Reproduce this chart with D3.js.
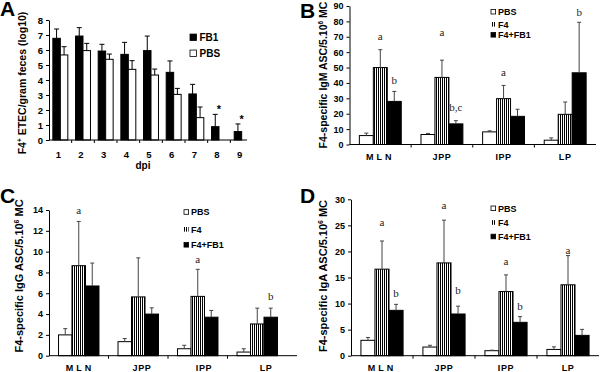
<!DOCTYPE html>
<html><head><meta charset="utf-8">
<script src="https://cdn.jsdelivr.net/npm/d3@7"></script>
<style>body{margin:0;background:#fff}svg{display:block}</style>
</head><body>
<svg id="c" width="600" height="372"></svg>
<script>
// ---------- DATA ----------
// Panel A
const dpi = ["1","2","3","4","5","6","7","8","9"];
const aFB1 = [6.78, 6.93, 5.93, 5.71, 5.96, 4.51, 3.07, 0.89, 0.56];
const aFB1Err = [0.62, 0.56, 0.45, 0.80, 0.97, 0.76, 0.64, 0.82, 0.51];
const aPBS = [5.67, 5.96, 5.38, 4.71, 4.33, 3.04, 1.49, 0, 0];
const aPBSErr = [0.55, 0.48, 0.35, 0.58, 0.40, 0.40, 0.71, 0, 0];
const aStars = ["8", "9"];
const aYTicks = [0,1,2,3,4,5,6,7,8];

// Panels B-D
const tissues = ["MLN","JPP","IPP","LP"];
const groupNames = ["PBS","F4","F4+FB1"];

const bPBS = [5.8, 6.5, 8.2, 2.8];     const bPBSErr = [1.6, 0.7, 0.7, 1.5];
const bF4  = [50, 43.6, 29.8, 19.6];   const bF4Err  = [11.6, 11.2, 8.6, 8.0];
const bFB  = [28, 13.4, 18.3, 46.6];   const bFBErr  = [6.5, 2.1, 4.6, 32.8];
const bLetters = [["MLN","F4","a",70],["MLN","F4+FB1","b",41],["JPP","F4","a",72.4],
                  ["JPP","F4+FB1","b,c",23.8],["IPP","F4","a",46.4],["LP","F4+FB1","b",85.2]];
const bYTicks = [0,10,20,30,40,50,60,70,80,90];

const cPBS = [2.0, 1.35, 0.67, 0.35];  const cPBSErr = [0.6, 0.3, 0.33, 0.32];
const cF4  = [8.65, 5.65, 5.7, 3.05];  const cF4Err  = [4.25, 3.75, 2.6, 1.52];
const cFB  = [6.7, 4.0, 3.7, 3.7];     const cFBErr  = [2.2, 0.6, 0.65, 0.87];
const cLetters = [["MLN","F4","a",13.9],["IPP","F4","a",9.2],["LP","F4+FB1","b",5.6]];
const cYTicks = [0,2,4,6,8,10,12,14];

const dPBS = [2.95, 1.66, 0.96, 1.2];  const dPBSErr = [0.55, 0.34, 0.1, 0.5];
const dF4  = [16.6, 17.8, 12.3, 13.6]; const dF4Err  = [5.4, 8.2, 3.2, 5.6];
const dFB  = [8.7, 8.0, 6.4, 3.9];     const dFBErr  = [1.15, 1.5, 1.1, 1.15];
const dLetters = [["MLN","F4","a",25.5],["MLN","F4+FB1","b",11.8],["JPP","F4","a",28.7],
                  ["JPP","F4+FB1","b",12.4],["IPP","F4","a",18.0],["IPP","F4+FB1","b",9.3],
                  ["LP","F4","a",20.1]];
const dYTicks = [0,5,10,15,20,25,30];

// ---------- DRAWING ----------
const SANS = "'Liberation Sans', Arial, sans-serif";
const SERIF = "'Liberation Serif', 'Times New Roman', serif";
const svg = d3.select("#c");
const defs = svg.append("defs");
const pat = defs.append("pattern").attr("id","stripes").attr("patternUnits","userSpaceOnUse")
  .attr("width",2).attr("height",4);
pat.append("rect").attr("width",2).attr("height",4).attr("fill","#fff");
pat.append("rect").attr("width",1).attr("height",4).attr("fill","#000");

const fills = {"PBS":"#fff","F4":"url(#stripes)","F4+FB1":"#000","FB1":"#000"};

function yAxis(g, y, x0, ticks, fs) {
  const ax = g.append("g").attr("transform",`translate(${x0},0)`)
    .call(d3.axisLeft(y).tickValues(ticks).tickSize(3).tickPadding(3).tickSizeOuter(0));
  ax.select(".domain").attr("stroke","#000");
  ax.selectAll(".tick line").attr("stroke","#000");
  ax.selectAll(".tick text").attr("fill","#000").style("font-family",SANS)
    .style("font-weight","bold").style("font-size",fs+"px");
}

function xAxis(g, xBars, xLab, cats, yBase, axisEnd, labY, fs, spacing) {
  g.append("line").attr("x1",xBars.range()[0]).attr("x2",axisEnd)
    .attr("y1",yBase).attr("y2",yBase).attr("stroke","#000");
  const step = xBars.step();
  cats.forEach((c,i)=>{
    if (i>0) {
      const xt = xBars(c) - xBars.paddingOuter()*step;
      g.append("line").attr("x1",xt).attr("x2",xt).attr("y1",yBase).attr("y2",yBase+3).attr("stroke","#000");
    }
  });
  g.selectAll(".cl").data(cats).join("text")
    .attr("x",d=>xLab(d)+xLab.bandwidth()/2).attr("y",labY)
    .attr("text-anchor","middle").style("font-family",SANS).style("font-weight","bold")
    .style("font-size",fs+"px").style("letter-spacing",d=>spacing(d)+"px").text(d=>d);
}

function bars(g, x0, x1, y, cats, name, vals, errs, capW, errColor) {
  cats.forEach((c,i)=>{
    const bx = x0(c)+x1(name), bw = x1.bandwidth();
    if (vals[i] > 0) {
      g.append("rect").attr("x",bx).attr("y",y(vals[i])).attr("width",bw)
        .attr("height",y(0)-y(vals[i])).attr("fill",fills[name]).attr("stroke","#000").attr("stroke-width",1);
    }
    if (errs[i] > 0) {
      const cx = bx + bw/2, top = y(vals[i]+errs[i]);
      g.append("line").attr("x1",cx).attr("x2",cx).attr("y1",y(vals[i])).attr("y2",top)
        .attr("stroke",errColor).attr("stroke-width",1);
      g.append("line").attr("x1",cx-capW/2).attr("x2",cx+capW/2).attr("y1",top).attr("y2",top)
        .attr("stroke",errColor).attr("stroke-width",1);
    }
  });
}

function legend(g, items, x, ys, size, fs, tx) {
  items.forEach((it,i)=>{
    g.append("rect").attr("x",x).attr("y",ys[i]-size/2).attr("width",size).attr("height",size)
      .attr("fill",fills[it]).attr("stroke",it==="F4"?"none":"#000").attr("stroke-width",0.8);
    g.append("text").attr("x",tx).attr("y",ys[i]+fs*0.36).style("font-family",SANS)
      .style("font-weight","bold").style("font-size",fs+"px").text(it);
  });
}

function yTitle(g, x, y, fs, parts) {
  const t = g.append("text").attr("transform",`translate(${x},${y}) rotate(-90)`)
    .attr("text-anchor","middle").style("font-family",SANS).style("font-weight","bold")
    .style("font-size",fs+"px");
  parts.forEach(p=>{
    const s = t.append("tspan").text(p[0]);
    if (p[1]==="sup") s.attr("dy",-fs*0.35).style("font-size",(fs*0.62)+"px");
    if (p[1]==="back") s.attr("dy",fs*0.35);
  });
}

function panelLetter(text, x, y) {
  svg.append("text").attr("x",x).attr("y",y).style("font-family",SANS).style("font-weight","bold")
    .style("font-size","21px").text(text);
}

// ----- Panel A -----
{
  const g = svg.append("g");
  const y = d3.scaleLinear().domain([0,8]).range([140,20]);
  const x0 = d3.scaleBand().domain(dpi).range([49,253]).paddingInner(0.34).paddingOuter(0.17);
  const x1 = d3.scaleBand().domain(["FB1","PBS"]).range([0,x0.bandwidth()]);
  bars(g, x0, x1, y, dpi, "FB1", aFB1, aFB1Err, 5, "#000");
  bars(g, x0, x1, y, dpi, "PBS", aPBS, aPBSErr, 5, "#000");
  yAxis(g, y, 49, aYTicks, 9.5);
  xAxis(g, x0, d3.scaleBand().domain(dpi).range([47,251]), dpi, 140, 247, 158, 9.5, ()=>0);
  aStars.forEach(s=>{
    const i = dpi.indexOf(s);
    const top = y(aFB1[i]+aFB1Err[i]);
    g.append("text").attr("x",x0(s)+x0.bandwidth()/2).attr("y",top-1)
      .attr("text-anchor","middle").style("font-family",SANS).style("font-weight","bold")
      .style("font-size","11px").text("*");
  });
  legend(g, ["FB1","PBS"], 190, [37.3,53.3], 6.5, 10, 199.5);
  yTitle(g, 26, 83, 10.5, [["F4"],["+","sup"],[" ETEC/gram feces (log10)","back"]]);
  g.append("text").attr("x",143).attr("y",169).attr("text-anchor","middle")
    .style("font-family",SANS).style("font-weight","bold").style("font-size","10px").text("dpi");
  panelLetter("A", 0, 16);
}

function groupedPanel(o) {
  const g = svg.append("g");
  const y = d3.scaleLinear().domain([0,o.yMax]).range(o.yRange);
  const x0 = d3.scaleBand().domain(tissues).range(o.xRange).paddingInner(0.32).paddingOuter(0.16);
  const x1 = d3.scaleBand().domain(groupNames).range([0,x0.bandwidth()]);
  const xl = d3.scaleBand().domain(tissues).range(o.labelRange);
  o.series.forEach((s,k)=>bars(g, x0, x1, y, tissues, groupNames[k], s[0], s[1], 4, "#444"));
  yAxis(g, y, o.xRange[0], o.yTicks, 9);
  xAxis(g, x0, xl, tissues, o.yRange[0], o.axisEnd, o.labY, 9, d=>d==="MLN"?3:0.6);
  o.letters.forEach(L=>{
    g.append("text").attr("x",x0(L[0])+x1(L[1])+x1.bandwidth()/2).attr("y",y(L[3])+3)
      .attr("text-anchor","middle").style("font-family",SERIF).style("font-size","11px")
      .attr("fill","#222").text(L[2]);
  });
  legend(g, groupNames, o.legX, o.legY, 4.6, 9, o.legX+7);
  yTitle(g, o.titleX, o.titleY, o.titleFs, o.title);
  panelLetter(o.letter, o.letterX, o.letterY);
}

groupedPanel({yMax:90, yRange:[144.5,6], xRange:[349.5,596], labelRange:[349.5,596], axisEnd:596,
  yTicks:bYTicks, labY:160, series:[[bPBS,bPBSErr],[bF4,bF4Err],[bFB,bFBErr]], letters:bLetters,
  legX:491, legY:[11.7,24.3,34.8], titleX:327, titleY:75, titleFs:10.5,
  title:[["F4-specific IgM ASC/5.10"],["6","sup"],[" MC","back"]], letter:"B", letterX:300, letterY:18});

groupedPanel({yMax:14, yRange:[355.7,210], xRange:[49,287], labelRange:[49,297], axisEnd:297,
  yTicks:cYTicks, labY:371, series:[[cPBS,cPBSErr],[cF4,cF4Err],[cFB,cFBErr]], letters:cLetters,
  legX:184, legY:[212,229.3,244.8], titleX:23, titleY:276, titleFs:11,
  title:[["F4-specific IgG ASC/5.10"],["6","sup"],[" MC","back"]], letter:"C", letterX:0, letterY:203});

groupedPanel({yMax:30, yRange:[355.7,199.3], xRange:[351,599], labelRange:[351,599], axisEnd:599,
  yTicks:dYTicks, labY:371, series:[[dPBS,dPBSErr],[dF4,dF4Err],[dFB,dFBErr]], letters:dLetters,
  legX:491, legY:[208.3,222.5,236.5], titleX:327, titleY:276, titleFs:11,
  title:[["F4-specific IgA ASC/5.10"],["6","sup"],[" MC","back"]], letter:"D", letterX:300, letterY:203});
</script>
</body></html>
